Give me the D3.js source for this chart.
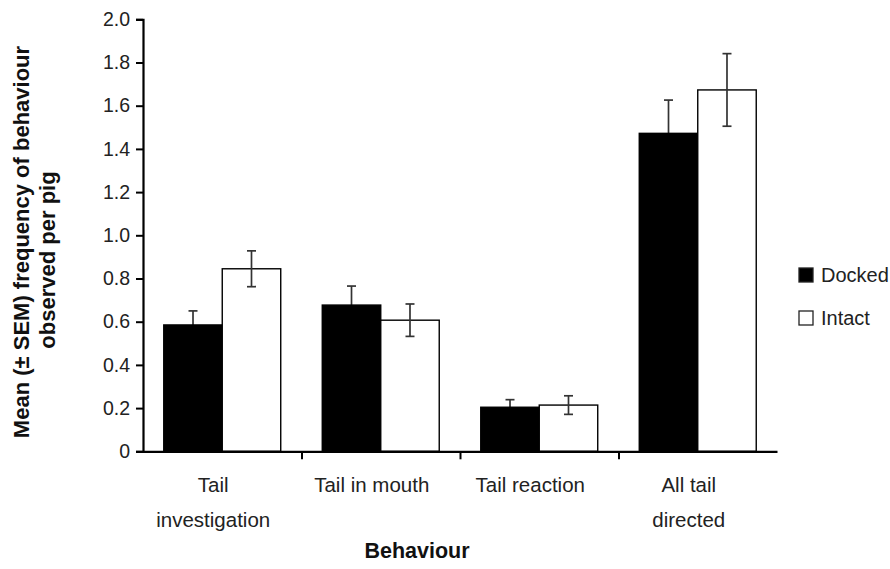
<!DOCTYPE html>
<html lang="en">
<head>
    <meta charset="UTF-8">
    <title>tail behaviour</title>
    <script src="https://cdn.jsdelivr.net/npm/d3@7"></script>
    <style>
        body{ margin:0; background:#fff; }
        svg{ display:block; font-family:"Liberation Sans", Arial, sans-serif; }
    </style>
</head>
<body>
</body>
<script type="text/javascript">

    let categories = [["Tail","investigation"],["Tail in mouth"],["Tail reaction"],["All tail","directed"]];
    let groups = ["Docked","Intact"];
    let docked = [0.585, 0.677, 0.204, 1.472];
    let dockedSem = [0.065, 0.088, 0.035, 0.154];
    let intact = [0.845, 0.607, 0.214, 1.673];
    let intactSem = [0.083, 0.075, 0.043, 0.168];
    let yTicks = [0, 0.2, 0.4, 0.6, 0.8, 1.0, 1.2, 1.4, 1.6, 1.8, 2.0];

    let width = 890, height = 569;
    let plotLeft = 143, plotRight = 777, plotTop = 19.3, plotBottom = 451.3;

    let svg = d3.select("body").append("svg")
        .attr("width", width)
        .attr("height", height);

    let x = d3.scaleBand()
        .domain(d3.range(categories.length))
        .range([plotLeft, plotRight])
        .paddingInner(0)
        .paddingOuter(0);
    // two bars per group, about 20px gap each side
    let inner = d3.scaleBand()
        .domain(groups)
        .range([0, x.bandwidth()])
        .paddingOuter(0.355)
        .paddingInner(0);
    let y = d3.scaleLinear().domain([0, 2]).range([plotBottom, plotTop]);

    let data = [];
    categories.forEach((c, i) => {
        data.push({ i: i, g: "Docked", v: docked[i], e: dockedSem[i] });
        data.push({ i: i, g: "Intact", v: intact[i], e: intactSem[i] });
    });

    let errLayer = svg.append("g").attr("stroke", "#333").attr("stroke-width", 1.7);
    let barLayer = svg.append("g");
    let errTop = svg.append("g").attr("stroke", "#333").attr("stroke-width", 1.7);

    // bars
    barLayer.selectAll("rect")
        .data(data)
        .join("rect")
        .attr("x", d => x(d.i) + inner(d.g))
        .attr("y", d => y(d.v))
        .attr("width", inner.bandwidth())
        .attr("height", d => y(0) - y(d.v))
        .attr("fill", d => d.g == "Docked" ? "#000" : "#fff")
        .attr("stroke", "#000")
        .attr("stroke-width", 1.4);

    // error bars (docked ones sit behind the black bar, so only the top half shows)
    data.forEach(d => {
        let eb = d.g == "Docked" ? errLayer : errTop;
        let cx = x(d.i) + inner(d.g) + inner.bandwidth() / 2;
        eb.append("line").attr("x1", cx).attr("x2", cx)
            .attr("y1", y(d.v - d.e)).attr("y2", y(d.v + d.e));
        [d.v - d.e, d.v + d.e].forEach(t => {
            eb.append("line").attr("x1", cx - 4.5).attr("x2", cx + 4.5)
                .attr("y1", y(t)).attr("y2", y(t));
        });
    });

    // y axis
    let yAxis = d3.axisLeft(y)
        .tickValues(yTicks)
        .tickFormat(d => d == 0 ? "0" : d3.format(".1f")(d))
        .tickSize(7)
        .tickPadding(6);
    let yg = svg.append("g").attr("transform", `translate(${plotLeft},0)`).call(yAxis);
    yg.select(".domain").attr("stroke-width", 2.2);
    yg.selectAll(".tick line").attr("stroke-width", 2);
    yg.selectAll(".tick text").attr("font-size", 19.5).attr("fill", "#222");

    // x axis
    let xAxis = d3.axisBottom(d3.scaleLinear().domain([0, categories.length]).range([plotLeft, plotRight]))
        .tickValues(d3.range(1, categories.length))
        .tickFormat("")
        .tickSize(8)
        .tickSizeOuter(0);
    let xg = svg.append("g").attr("transform", `translate(0,${plotBottom})`).call(xAxis);
    xg.select(".domain").attr("stroke-width", 2.2);
    xg.selectAll(".tick line").attr("stroke-width", 2);

    // category labels
    categories.forEach((lines, i) => {
        let t = svg.append("text")
            .attr("text-anchor", "middle")
            .attr("font-size", 20.5)
            .attr("fill", "#222");
        lines.forEach((s, k) => {
            t.append("tspan")
                .attr("x", x(i) + x.bandwidth() / 2 - 9)
                .attr("y", 492 + k * 35)
                .text(s);
        });
    });

    // axis titles
    svg.append("text")
        .attr("x", 417).attr("y", 558)
        .attr("text-anchor", "middle")
        .attr("font-size", 21.5).attr("font-weight", "bold")
        .attr("fill", "#111")
        .text("Behaviour");

    let yt = svg.append("text")
        .attr("transform", "rotate(-90)")
        .attr("text-anchor", "middle")
        .attr("font-size", 22).attr("font-weight", "bold")
        .attr("fill", "#111");
    yt.append("tspan").attr("x", -242).attr("y", 29).text("Mean (\u00b1 SEM) frequency of behaviour");
    yt.append("tspan").attr("x", -260).attr("y", 55).text("observed per pig");

    // legend
    let lg = svg.append("g");
    groups.forEach((g, k) => {
        let yy = 268 + k * 43;
        lg.append("rect").attr("x", 799).attr("y", yy)
            .attr("width", 14).attr("height", 14)
            .attr("fill", g == "Docked" ? "#000" : "#fff")
            .attr("stroke", "#222").attr("stroke-width", 1.3);
        lg.append("text").attr("x", 821).attr("y", yy + 14)
            .attr("font-size", 20).attr("fill", "#222")
            .text(g);
    });

</script>
</html>
